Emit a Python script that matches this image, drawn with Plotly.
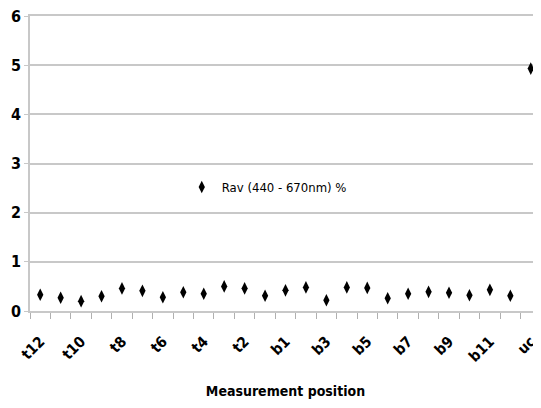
import plotly.graph_objects as go

categories = ["t12", "t11", "t10", "t9", "t8", "t7", "t6", "t5", "t4", "t3", "t2", "t1",
              "b1", "b2", "b3", "b4", "b5", "b6", "b7", "b8", "b9", "b10", "b11", "b12", "uc"]
rav_values = [0.33, 0.27, 0.20, 0.30, 0.46, 0.41, 0.28, 0.38, 0.35, 0.50, 0.46, 0.31,
              0.42, 0.48, 0.22, 0.48, 0.47, 0.26, 0.35, 0.39, 0.37, 0.32, 0.43, 0.31, 4.93]
tick_labels = [c if i % 2 == 0 else "" for i, c in enumerate(categories)]
y_ticks = [0, 1, 2, 3, 4, 5, 6]

FONT = "DejaVu Sans Condensed, Liberation Sans Narrow, Arial Narrow, sans-serif"

fig = go.Figure()
fig.add_trace(go.Scatter(
    x=categories, y=rav_values, mode="markers",
    name="Rav (440 - 670nm) %",
    marker=dict(symbol="diamond-tall", size=9, color="black"),
))

fig.update_layout(
    width=533, height=400,
    margin=dict(l=22, r=0, t=8, b=97),
    paper_bgcolor="white", plot_bgcolor="white",
    font=dict(family=FONT, color="black"),
    showlegend=True,
    legend=dict(x=0.297, y=0.42, xanchor="left", yanchor="middle",
                bgcolor="rgba(0,0,0,0)", font=dict(size=13, family=FONT)),
    xaxis=dict(
        type="category", categoryorder="array", categoryarray=categories,
        tickmode="array", tickvals=categories, ticktext=tick_labels, tickangle=-45,
        ticks="outside", ticklen=6, tickcolor="#b0b0b0", tickson="boundaries",
        ticklabelstandoff=14,
        showline=True, linecolor="#c8c8c8", linewidth=1.5, mirror=True,
        showgrid=False, zeroline=False, automargin=False,
        tickfont=dict(size=15, family=FONT, weight="bold"),
        title=dict(text="Measurement position", font=dict(size=14, family=FONT, weight="bold"), standoff=22),
        range=[-0.5, 24.5],
    ),
    yaxis=dict(
        range=[0, 6], tickvals=y_ticks, showgrid=True, gridcolor="#c8c8c8", gridwidth=1.5,
        showline=True, linecolor="#c8c8c8", linewidth=1.5, automargin=False,
        zeroline=True, zerolinecolor="#c0c0c0", zerolinewidth=1.5,
        ticks="outside", ticklen=4, tickcolor="#c8c8c8", ticklabeloverflow="allow",
        tickfont=dict(size=16, family=FONT, weight="bold"),
    ),
)

fig.write_html("out.html")
